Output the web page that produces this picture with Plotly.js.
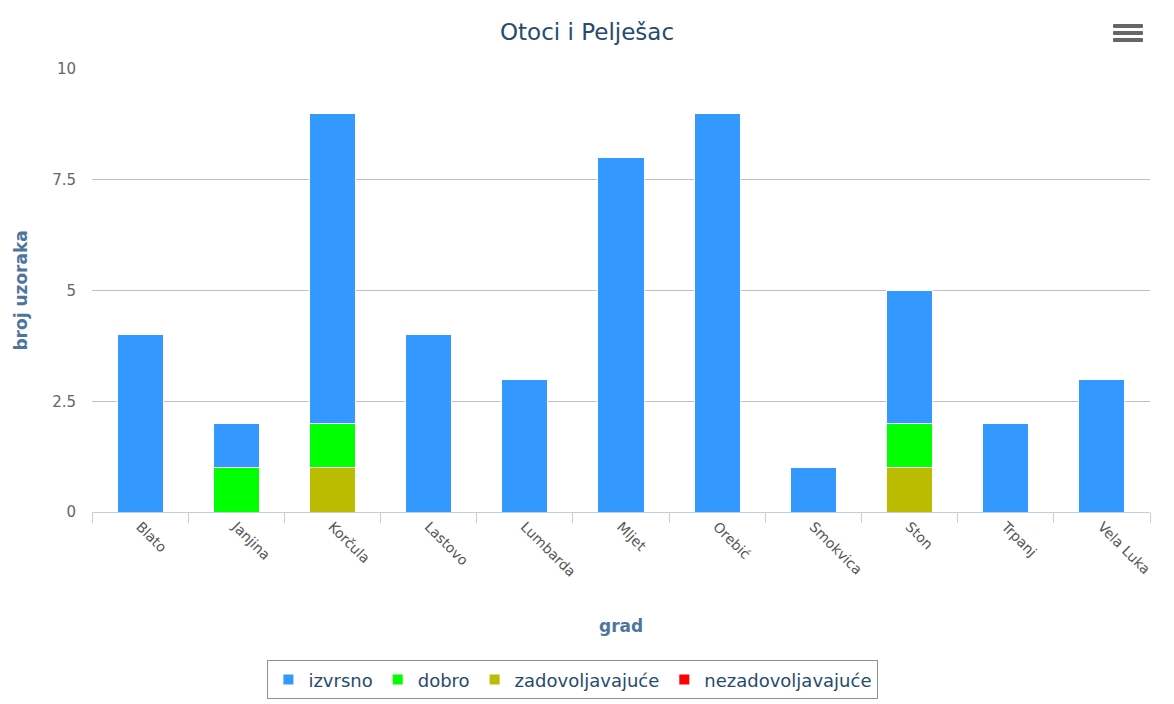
<!DOCTYPE html>
<html>
<head>
<meta charset="utf-8">
<script src="https://cdn.plot.ly/plotly-3.0.1.min.js"></script>
<style>
  body { margin: 0; background: #fff; }
  #plot { width: 1174px; height: 704px; position: relative; }
  .menu { position: absolute; left: 1113px; top: 24px; width: 30px; }
  .menu div { height: 4px; background: #666; margin-bottom: 3px; border-radius: 1px; }
</style>
</head>
<body>
<div id="plot"></div>
<div class="menu"><div></div><div></div><div></div></div>
<script>
const gradovi = ["Blato", "Janjina", "Korčula", "Lastovo", "Lumbarda", "Mljet",
  "Orebić", "Smokvica", "Ston", "Trpanj", "Vela Luka"];

const izvrsno = [4, 1, 7, 4, 3, 8, 9, 1, 3, 2, 3];
const dobro = [0, 1, 1, 0, 0, 0, 0, 0, 1, 0, 0];
const zadovoljavajuce = [0, 0, 1, 0, 0, 0, 0, 0, 1, 0, 0];
const nezadovoljavajuce = [0, 0, 0, 0, 0, 0, 0, 0, 0, 0, 0];

const serije = [
  { name: "nezadovoljavajuće", y: nezadovoljavajuce, color: "#ff0000" },
  { name: "zadovoljavajuće", y: zadovoljavajuce, color: "#bbbb00" },
  { name: "dobro", y: dobro, color: "#00ff00" },
  { name: "izvrsno", y: izvrsno, color: "#3399ff" }
];

const traces = serije.map(s => ({
  type: "bar",
  name: s.name,
  x: gradovi,
  y: s.y,
  marker: { color: s.color, line: { color: "#ffffff", width: 1 } },
  hoverinfo: "x+y+name"
}));

const naslovFont = { size: 17, color: "#4d759e", family: "DejaVu Sans, Verdana, sans-serif" };

const layout = {
  width: 1174,
  height: 704,
  barmode: "stack",
  bargap: 0.52,
  font: { family: "DejaVu Sans, Verdana, sans-serif", color: "#666" },
  paper_bgcolor: "#fff",
  plot_bgcolor: "#fff",
  margin: { l: 92, r: 24, t: 69, b: 192 },
  title: {
    text: "Otoci i Pelješac",
    font: { size: 23, color: "#274b6d", family: "DejaVu Sans, Verdana, sans-serif" },
    x: 0.5, xanchor: "center", y: 0.955, yanchor: "middle"
  },
  xaxis: {
    automargin: false,
    tickangle: 45,
    tickfont: { size: 14, color: "#555" },
    showline: true,
    linecolor: "#c0d0e0",
    linewidth: 1,
    ticks: "outside",
    tickson: "boundaries",
    ticklen: 10,
    tickcolor: "#c0d0e0",
    showgrid: false
  },
  yaxis: {
    automargin: false,
    range: [0, 10],
    tickvals: [0, 2.5, 5, 7.5, 10],
    ticktext: ["0", "2.5", "5", "7.5", "10"],
    tickfont: { size: 15, color: "#666" },
    gridcolor: "#c0c0c0",
    zeroline: false,
    showline: false,
    ticks: "outside",
    ticklen: 12,
    tickcolor: "#fff"
  },
  annotations: [
    { text: "<b>grad</b>", xref: "paper", yref: "paper", x: 0.5, y: -0.258,
      xanchor: "center", yanchor: "middle", showarrow: false, font: naslovFont },
    { text: "<b>broj uzoraka</b>", xref: "paper", yref: "paper", x: -0.068, y: 0.5,
      xanchor: "center", yanchor: "middle", textangle: -90, showarrow: false, font: naslovFont }
  ],
  showlegend: true,
  legend: {
    orientation: "h",
    traceorder: "reversed",
    xref: "container", yref: "container",
    x: 0.488, xanchor: "center",
    y: 0.062, yanchor: "top",
    bordercolor: "#909090",
    borderwidth: 1,
    font: { size: 18, color: "#274b6d" },
    itemsizing: "constant"
  }
};

Plotly.newPlot("plot", traces, layout, { displayModeBar: false });
</script>
</body>
</html>
